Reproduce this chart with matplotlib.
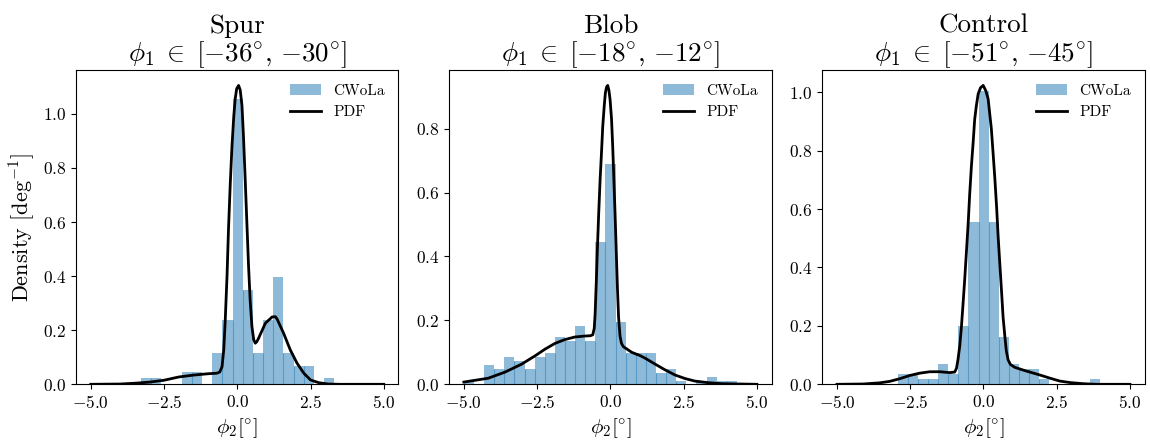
import matplotlib
matplotlib.use('Agg')
import matplotlib.pyplot as plt
import numpy as np

# Titulos de cada panel
titles = ['Spur\n$\\phi_1 \\;\\in\\; [-36^{\\circ},\\,{-30}^{\\circ}]$',
          'Blob\n$\\phi_1 \\;\\in\\; [-18^{\\circ},\\,{-12}^{\\circ}]$',
          'Control\n$\\phi_1 \\;\\in\\; [-51^{\\circ},\\,{-45}^{\\circ}]$']

# Histogramas (densidad por bin), bins: (inicio, fin, numero)
bins_spur = (-3.28, 3.31, 19)
hist_spur = [0.023, 0.023, 0.0, 0.0, 0.046, 0.046, 0.0, 0.116, 0.236, 1.056,
             0.350, 0.116, 0.236, 0.398, 0.116, 0.069, 0.069, 0.0, 0.023]

bins_blob = (-5.0, 4.32, 27)
hist_blob = [0.010, 0.0, 0.061, 0.048, 0.086, 0.073, 0.048, 0.086, 0.098,
             0.149, 0.136, 0.183, 0.136, 0.444, 0.689, 0.196, 0.098, 0.098,
             0.098, 0.036, 0.048, 0.010, 0.0, 0.010, 0.023, 0.010, 0.010]

bins_ctrl = (-2.93, 3.98, 20)
hist_ctrl = [0.036, 0.036, 0.018, 0.018, 0.070, 0.036, 0.198, 0.554, 1.005,
             0.554, 0.163, 0.070, 0.053, 0.053, 0.018, 0.0, 0.0, 0.0, 0.0, 0.018]

# Curvas PDF
pdf_spur_x = [-5.0, -4.5, -4.0, -3.5, -3.0, -2.5, -2.0, -1.5, -1.0, -0.7, -0.6,
              -0.52, -0.46, -0.41, -0.35, -0.30, -0.24, -0.18, -0.12, -0.07,
              -0.02, 0.045, 0.10, 0.16, 0.21, 0.27, 0.33, 0.385, 0.44, 0.50,
              0.56, 0.615, 0.67, 0.73, 0.96, 1.19, 1.30, 1.36, 1.58, 1.81,
              2.04, 2.27, 2.50, 2.78, 3.1, 3.5, 4.0, 5.0]
pdf_spur_y = [0.0, 0.0005, 0.001, 0.004, 0.008, 0.015, 0.027, 0.034, 0.039,
              0.041, 0.045, 0.065, 0.13, 0.239, 0.40, 0.573, 0.74, 0.882, 0.99,
              1.056, 1.093, 1.105, 1.088, 1.031, 0.92, 0.759, 0.59, 0.437, 0.31,
              0.214, 0.165, 0.152, 0.158, 0.171, 0.226, 0.249, 0.250, 0.241,
              0.189, 0.127, 0.078, 0.041, 0.016, 0.006, 0.001, 0.0, 0.0, 0.0]

pdf_blob_x = [-5.0, -4.17, -3.60, -3.03, -2.57, -2.23, -1.89, -1.55, -1.21,
              -0.87, -0.68, -0.60, -0.55, -0.52, -0.48, -0.44, -0.40, -0.35,
              -0.30, -0.26, -0.21, -0.17, -0.13, -0.09, -0.05, -0.01, 0.04,
              0.08, 0.12, 0.16, 0.20, 0.24, 0.28, 0.33, 0.38, 0.44, 0.73, 1.01,
              1.18, 1.53, 1.87, 2.21, 2.55, 2.89, 3.35, 3.80, 4.37, 5.0]
pdf_blob_y = [0.007, 0.019, 0.038, 0.063, 0.089, 0.110, 0.128, 0.140, 0.148,
              0.151, 0.152, 0.155, 0.175, 0.22, 0.32, 0.43, 0.53, 0.64, 0.73,
              0.807, 0.87, 0.912, 0.93, 0.935, 0.92, 0.891, 0.83, 0.744, 0.64,
              0.535, 0.42, 0.304, 0.21, 0.150, 0.128, 0.118, 0.100, 0.090,
              0.082, 0.063, 0.045, 0.029, 0.018, 0.010, 0.005, 0.002, 0.001, 0.0]

pdf_ctrl_x = [-5.0, -4.11, -3.54, -3.20, -2.86, -2.52, -2.18, -1.83, -1.49,
              -1.15, -0.98, -0.92, -0.87, -0.81, -0.75, -0.70, -0.64, -0.58,
              -0.52, -0.47, -0.41, -0.35, -0.30, -0.24, -0.18, -0.10, -0.01,
              0.08, 0.16, 0.21, 0.27, 0.33, 0.39, 0.45, 0.50, 0.56, 0.62, 0.67,
              0.73, 0.78, 0.84, 0.92, 1.07, 1.41, 1.58, 1.92, 2.27, 2.61, 2.95,
              3.41, 3.86, 5.0]
pdf_ctrl_y = [0.0, 0.001, 0.005, 0.010, 0.019, 0.030, 0.038, 0.043, 0.043,
              0.040, 0.042, 0.055, 0.084, 0.13, 0.199, 0.27, 0.358, 0.455,
              0.553, 0.65, 0.748, 0.83, 0.906, 0.955, 0.994, 1.015, 1.023,
              1.005, 0.977, 0.93, 0.874, 0.79, 0.703, 0.605, 0.508, 0.41, 0.314,
              0.23, 0.165, 0.115, 0.084, 0.068, 0.058, 0.047, 0.042, 0.032,
              0.021, 0.011, 0.006, 0.002, 0.0, 0.0]

paneles = [
    (bins_spur, hist_spur, pdf_spur_x, pdf_spur_y),
    (bins_blob, hist_blob, pdf_blob_x, pdf_blob_y),
    (bins_ctrl, hist_ctrl, pdf_ctrl_x, pdf_ctrl_y),
]

# Estilo tipo LaTeX (Computer Modern)
plt.rcParams['font.family'] = 'serif'
plt.rcParams['font.serif'] = ['cmr10']
plt.rcParams['mathtext.fontset'] = 'cm'
plt.rcParams['axes.formatter.use_mathtext'] = True
plt.rcParams['axes.unicode_minus'] = True

fig, axs = plt.subplots(1, 3, figsize=(11.5, 4.45), dpi=100)
plt.subplots_adjust(left=0.0662, right=0.9953, bottom=0.1364, top=0.8416,
                    wspace=0.1576)

for ax, title, (b, h, px, py) in zip(axs, titles, paneles):
    edges = np.linspace(b[0], b[1], b[2] + 1)
    centers = 0.5 * (edges[:-1] + edges[1:])
    ax.hist(centers, bins=edges, weights=h, color='C0', alpha=0.5, label='CWoLa')
    # Lineas divisorias entre barras contiguas
    h = np.array(h)
    seam = np.minimum(h[:-1], h[1:])
    ok = seam > 0
    ax.vlines(edges[1:-1][ok], 0, seam[ok], color='C0', alpha=0.5, lw=0.8)
    ax.plot(px, py, color='black', lw=2, label='PDF')
    ax.set_title(title, fontsize=19.5, linespacing=1.1, pad=5)
    ax.set_xlabel('$\\phi_2 [^{\\circ}]$', fontsize=15)
    ax.set_xticks([-5.0, -2.5, 0.0, 2.5, 5.0])
    ax.tick_params(labelsize=12.5)
    ax.legend(loc='upper right', frameon=False, fontsize=11)

axs[0].set_ylabel('Density [deg$^{-1}$]', fontsize=16)

plt.savefig('out.png', dpi=100)
